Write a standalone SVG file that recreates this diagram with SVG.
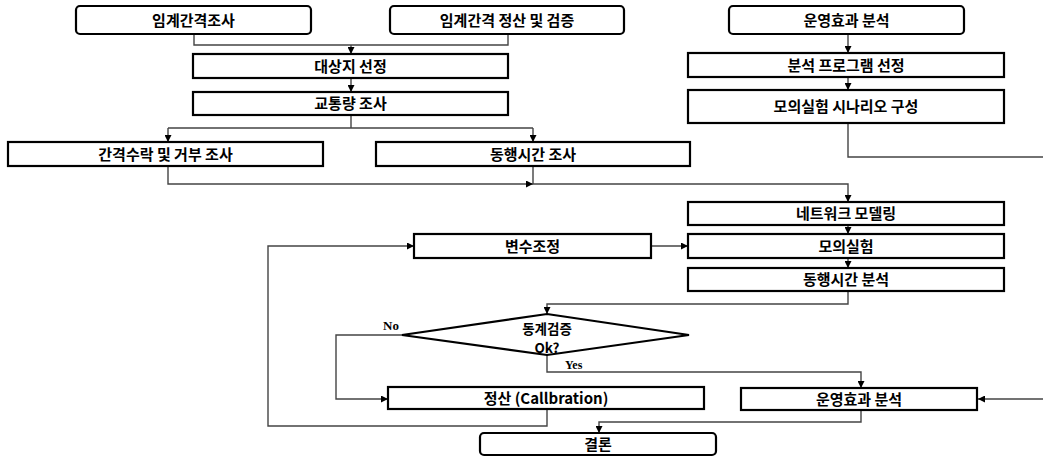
<svg xmlns="http://www.w3.org/2000/svg" width="1043" height="457" viewBox="0 0 1043 457">
<style>
.box{fill:#fff;stroke:#000;stroke-width:2.2}
.t{font-family:"Noto Sans CJK KR","Liberation Sans",sans-serif;font-weight:bold;font-size:15px;fill:#000;text-anchor:middle}
.d{font-size:13.5px}
.lbl{font-family:"Liberation Serif",serif;font-weight:bold;font-size:13px;fill:#000}
.c{fill:none;stroke:#444;stroke-width:1.4}
</style>
<defs>
<marker id="a" viewBox="0 0 8 8" refX="8" refY="4" markerWidth="7" markerHeight="7" markerUnits="userSpaceOnUse" orient="auto">
<path d="M0,0 L8,4 L0,8 z" fill="#000"/>
</marker>
</defs>
<rect width="1043" height="457" fill="#fff"/>
<g id="connectors">
<path class="c" d="M194,34 V45 H508 V34"/>
<path class="c" d="M351,45 V54" marker-end="url(#a)"/>
<path class="c" d="M351,78 V92" marker-end="url(#a)"/>
<path class="c" d="M351,115 V128 M168,128 H533"/>
<path class="c" d="M168,128 V142" marker-end="url(#a)"/>
<path class="c" d="M533,128 V142" marker-end="url(#a)"/>
<path class="c" d="M168,166 V184 H533" marker-end="url(#a)"/>
<path class="c" d="M533,166 V184 H848 V202" marker-end="url(#a)"/>
<path class="c" d="M848,34 V53" marker-end="url(#a)"/>
<path class="c" d="M848,77 V90" marker-end="url(#a)"/>
<path class="c" d="M848,123 V157 H1043"/>
<path class="c" d="M1043,399 H978" marker-end="url(#a)"/>
<path class="c" d="M848,225 V234" marker-end="url(#a)"/>
<path class="c" d="M848,258 V268" marker-end="url(#a)"/>
<path class="c" d="M848,291 V304 H547 V314" marker-end="url(#a)"/>
<path class="c" d="M651,246 H688" marker-end="url(#a)"/>
<path class="c" d="M402,335 H336 V399 H388" marker-end="url(#a)"/>
<path class="c" d="M547,355 V372 H861 V388" marker-end="url(#a)"/>
<path class="c" d="M547,409 V426 H268 V246 H414" marker-end="url(#a)"/>
<path class="c" d="M861,410 V422 H599 V433" marker-end="url(#a)"/>
<text class="lbl" x="383" y="330">No</text>
<text class="lbl" x="565" y="369" style="font-size:12px">Yes</text>
</g>
<g id="n1"><rect class="box" x="76" y="6" width="235" height="28" rx="4"/><text class="t" x="193.5" y="25.5">임계간격조사</text></g>
<g id="n2"><rect class="box" x="390" y="6" width="234" height="28" rx="4"/><text class="t" x="507" y="25.5">임계간격 정산 및 검증</text></g>
<g id="n3"><rect class="box" x="729" y="6" width="235" height="28" rx="4"/><text class="t" x="846.5" y="25.5">운영효과 분석</text></g>
<g id="n4"><rect class="box" x="193" y="54" width="315" height="24"/><text class="t" x="350.5" y="71.5">대상지 선정</text></g>
<g id="n5"><rect class="box" x="193" y="92" width="315" height="23"/><text class="t" x="350.5" y="109">교통량 조사</text></g>
<g id="n6"><rect class="box" x="688" y="53" width="316" height="24"/><text class="t" x="846" y="70.5">분석 프로그램 선정</text></g>
<g id="n7"><rect class="box" x="688" y="90" width="316" height="33"/><text class="t" x="846" y="112">모의실험 시나리오 구성</text></g>
<g id="n8"><rect class="box" x="8" y="142" width="315" height="24"/><text class="t" x="165.5" y="159.5">간격수락 및 거부 조사</text></g>
<g id="n9"><rect class="box" x="376" y="142" width="314" height="24"/><text class="t" x="533" y="159.5">동행시간 조사</text></g>
<g id="n10"><rect class="box" x="688" y="202" width="316" height="23"/><text class="t" x="846" y="219">네트워크 모델링</text></g>
<g id="n11"><rect class="box" x="414" y="234" width="237" height="24"/><text class="t" x="532.5" y="251.5">변수조정</text></g>
<g id="n12"><rect class="box" x="688" y="234" width="316" height="24"/><text class="t" x="846" y="251.5">모의실험</text></g>
<g id="n13"><rect class="box" x="688" y="268" width="316" height="23"/><text class="t" x="846" y="285">동행시간 분석</text></g>
<g id="n14"><polygon class="box" points="547,314 689,335 547,355 402,335"/><text class="t d" x="547" y="333.5">동계검증</text><text class="t d" x="547" y="353">Ok?</text></g>
<g id="n15"><rect class="box" x="388" y="387" width="316" height="22"/><text class="t" x="546" y="403.5">정산 (Callbration)</text></g>
<g id="n16"><rect class="box" x="741" y="388" width="236" height="22"/><text class="t" x="859" y="404.5">운영효과 분석</text></g>
<g id="n17"><rect class="box" x="480" y="433" width="236" height="22" rx="4"/><text class="t" x="598" y="449.5">결론</text></g>
</svg>
